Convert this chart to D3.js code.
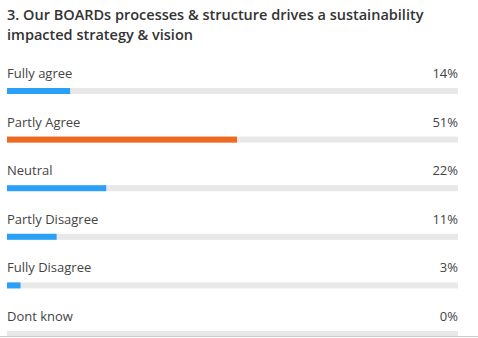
<!DOCTYPE html>
<html><head><meta charset="utf-8">
<script src="https://cdn.jsdelivr.net/npm/d3@7"></script>
<style>html,body{margin:0;padding:0;background:#fff;}svg{display:block;}</style>
</head><body>
<svg id="c" width="478" height="338"></svg>
<script>
const titleLines = ["3. Our BOARDs processes & structure drives a sustainability", "impacted strategy & vision"];
const categories = ["Fully agree", "Partly Agree", "Neutral", "Partly Disagree", "Fully Disagree", "Dont know"];
const values = [14, 51, 22, 11, 3, 0];
const highlight = "Partly Agree";

const svg = d3.select("#c");
const W = 478, H = 338;
const left = 7, right = 458;
const x = d3.scaleLinear().domain([0, 100]).range([left, right]);
const y = d3.scaleBand().domain(categories).range([54, 54 + 48.6 * categories.length]);

svg.append("rect").attr("width", W).attr("height", H).attr("fill", "#fff");

const t = svg.append("text").attr("font-family", "'Open Sans', sans-serif").attr("font-weight", 600)
  .attr("font-size", 14.5).attr("fill", "#333");
titleLines.forEach((l, i) => t.append("tspan").attr("x", 7).attr("y", 20 + i * 20).text(l));

const row = svg.selectAll("g.row").data(categories).enter().append("g").attr("class", "row")
  .attr("transform", d => `translate(0,${y(d)})`);

row.append("text").attr("x", left).attr("y", 24).attr("font-family", "'Open Sans', sans-serif")
  .attr("font-size", 13).attr("fill", "#444").text(d => d);
row.append("text").attr("x", right).attr("y", 24).attr("text-anchor", "end").attr("font-family", "'Open Sans', sans-serif")
  .attr("font-size", 13).attr("fill", "#444").text((d, i) => values[i] + "%");
row.append("rect").attr("x", left).attr("y", 34).attr("width", x(100) - left).attr("height", 6).attr("fill", "#e8e8e8");
row.append("rect").attr("x", left).attr("y", 34).attr("width", (d, i) => x(values[i]) - left).attr("height", 6)
  .attr("fill", d => d === highlight ? "#ee6a1e" : "#2ba0f7");

svg.append("line").attr("x1", 0).attr("x2", W).attr("y1", 336.5).attr("y2", 336.5).attr("stroke", "#ccc");
</script>
</body></html>
